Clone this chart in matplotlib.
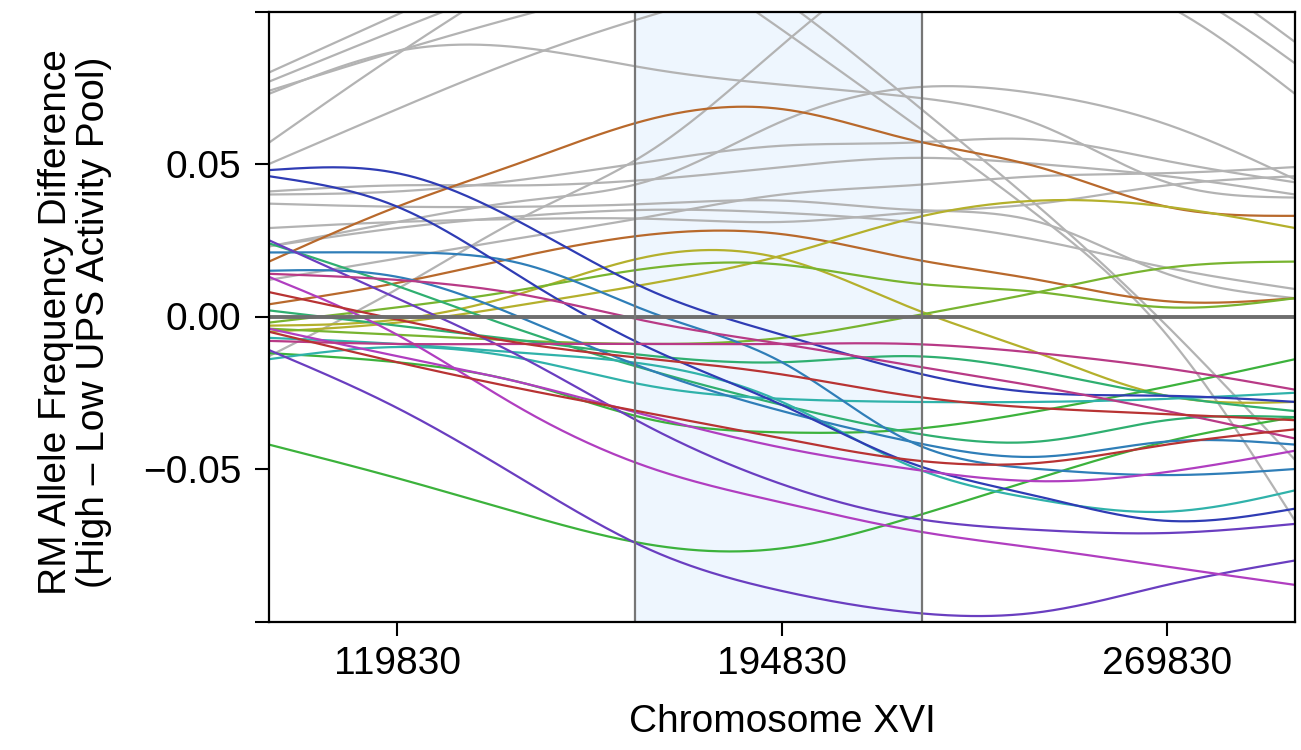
import numpy as np
import matplotlib
matplotlib.use('Agg')
import matplotlib.pyplot as plt

plt.rcParams['font.family'] = ['Liberation Sans', 'DejaVu Sans']

pos = [94830, 119830, 144830, 169830, 194830, 219830, 244830, 269830, 294830]

# coloured curves (two per colour)
brown_a = [0.018, 0.036, 0.051, 0.065, 0.068, 0.058, 0.049, 0.036, 0.033]
brown_b = [0.004, 0.011, 0.020, 0.027, 0.027, 0.019, 0.012, 0.005, 0.006]
olive_a = [-0.003, -0.001, 0.008, 0.020, 0.019, 0.003, -0.012, -0.026, -0.028]
olive_b = [-0.005, -0.002, 0.004, 0.011, 0.020, 0.032, 0.038, 0.036, 0.029]
ygreen_a = [-0.002, 0.003, 0.009, 0.016, 0.017, 0.011, 0.008, 0.003, 0.006]
ygreen_b = [-0.004, -0.006, -0.008, -0.009, -0.007, 0.000, 0.008, 0.016, 0.018]
green_a = [-0.042, -0.053, -0.065, -0.075, -0.076, -0.066, -0.053, -0.041, -0.033]
green_b = [-0.012, -0.015, -0.022, -0.034, -0.038, -0.037, -0.031, -0.023, -0.014]
sea_a = [0.024, 0.010, -0.005, -0.018, -0.029, -0.038, -0.041, -0.034, -0.033]
sea_b = [0.002, -0.003, -0.008, -0.013, -0.015, -0.013, -0.018, -0.026, -0.031]
teal_a = [-0.014, -0.010, -0.014, -0.023, -0.027, -0.028, -0.028, -0.027, -0.025]
teal_b = [-0.007, -0.009, -0.012, -0.016, -0.028, -0.049, -0.060, -0.064, -0.057]
blue_a = [0.021, 0.021, 0.017, 0.001, -0.015, -0.041, -0.050, -0.052, -0.050]
blue_b = [0.015, 0.013, -0.001, -0.018, -0.031, -0.041, -0.046, -0.041, -0.042]
navy_a = [0.046, 0.036, 0.012, -0.011, -0.029, -0.048, -0.059, -0.067, -0.063]
navy_b = [0.048, 0.047, 0.030, 0.008, -0.006, -0.018, -0.025, -0.026, -0.028]
violet_a = [0.025, 0.006, -0.014, -0.037, -0.055, -0.066, -0.070, -0.071, -0.068]
violet_b = [-0.011, -0.030, -0.054, -0.077, -0.090, -0.097, -0.097, -0.088, -0.080]
purple_a = [-0.004, -0.013, -0.022, -0.033, -0.043, -0.050, -0.054, -0.051, -0.044]
purple_b = [0.013, -0.006, -0.031, -0.050, -0.061, -0.070, -0.076, -0.082, -0.088]
pink_a = [0.014, 0.012, 0.007, -0.002, -0.009, -0.016, -0.023, -0.031, -0.040]
pink_b = [-0.008, -0.009, -0.009, -0.009, -0.009, -0.009, -0.012, -0.017, -0.024]
red_a = [0.008, -0.001, -0.009, -0.014, -0.019, -0.026, -0.030, -0.032, -0.034]
red_b = [-0.005, -0.015, -0.024, -0.032, -0.040, -0.047, -0.048, -0.042, -0.037]

colour_lines = [
    (brown_a, '#B8692C'), (brown_b, '#B8692C'),
    (olive_a, '#B4B02C'), (olive_b, '#B4B02C'),
    (ygreen_a, '#78B430'), (ygreen_b, '#78B430'),
    (green_a, '#3CB23C'), (green_b, '#3CB23C'),
    (sea_a, '#2FAF70'), (sea_b, '#2FAF70'),
    (teal_a, '#30B2AA'), (teal_b, '#30B2AA'),
    (blue_a, '#2F7EB8'), (blue_b, '#2F7EB8'),
    (navy_a, '#2F3CB4'), (navy_b, '#2F3CB4'),
    (violet_a, '#6A3EC0'), (violet_b, '#6A3EC0'),
    (purple_a, '#B03EC0'), (purple_b, '#B03EC0'),
    (pink_a, '#B83A86'), (pink_b, '#B83A86'),
    (red_a, '#B83333'), (red_b, '#B83333'),
]

nan = np.nan
# grey background curves (nan where the curve is not read)
grey_lines = [
    [0.080, 0.099, 0.118, nan, nan, nan, nan, nan, nan],
    [0.077, 0.094, 0.110, 0.123, 0.130, 0.130, 0.127, 0.117, 0.090],
    [0.074, 0.087, 0.099, 0.109, 0.115, 0.118, 0.117, 0.109, 0.083],
    [0.057, 0.086, 0.113, nan, nan, nan, nan, nan, nan],
    [0.050, 0.068, 0.085, 0.099, 0.110, 0.116, 0.115, 0.102, 0.073],
    [0.073, 0.087, 0.088, 0.081, 0.076, 0.072, 0.063, 0.044, 0.039],
    [0.041, 0.043, 0.043, 0.045, 0.049, 0.052, 0.050, 0.046, 0.040],
    [0.040, 0.041, 0.045, 0.051, 0.056, 0.057, 0.058, 0.051, 0.044],
    [0.037, 0.036, 0.036, 0.037, 0.038, 0.035, 0.031, 0.014, 0.006],
    [0.029, 0.031, 0.032, 0.032, 0.031, 0.034, 0.037, 0.043, 0.046],
    [0.023, 0.031, 0.038, 0.045, 0.064, 0.075, 0.073, 0.063, 0.045],
    [0.023, 0.029, 0.033, 0.035, 0.034, 0.031, 0.025, 0.016, 0.009],
    [0.012, 0.019, 0.026, 0.033, 0.040, 0.043, 0.046, 0.047, 0.049],
    [-0.013, 0.009, 0.033, 0.055, 0.089, 0.123, nan, nan, nan],
    [nan, nan, nan, 0.123, 0.094, 0.064, 0.033, -0.006, -0.067],
    [nan, nan, nan, 0.130, 0.104, 0.071, 0.036, -0.003, -0.047],
]

region = (166100, 222200)
x_ticks = [119830, 194830, 269830]
y_ticks = [-0.1, -0.05, 0.0, 0.05, 0.1]
y_tick_labels = ['', '\u22120.05', '0.00', '0.05', '']


def spline(xs, ys, xn):
    # natural cubic spline through the read points
    xs = np.asarray(xs, float)
    ys = np.asarray(ys, float)
    n = len(xs)
    if n < 3:
        return np.interp(xn, xs, ys)
    h = np.diff(xs)
    A = np.zeros((n, n))
    r = np.zeros(n)
    A[0, 0] = A[-1, -1] = 1
    for i in range(1, n - 1):
        A[i, i - 1] = h[i - 1]
        A[i, i] = 2 * (h[i - 1] + h[i])
        A[i, i + 1] = h[i]
        r[i] = 3 * ((ys[i + 1] - ys[i]) / h[i] - (ys[i] - ys[i - 1]) / h[i - 1])
    c = np.linalg.solve(A, r)
    b = (ys[1:] - ys[:-1]) / h - h * (2 * c[:-1] + c[1:]) / 3
    d = (c[1:] - c[:-1]) / (3 * h)
    k = np.clip(np.searchsorted(xs, xn) - 1, 0, n - 2)
    dx = xn - xs[k]
    return ys[k] + b[k] * dx + c[k] * dx ** 2 + d[k] * dx ** 3


def draw(ax, vals, color, lw):
    xs = np.array(pos, float)
    ys = np.array(vals, float)
    ok = np.isfinite(ys)
    xs, ys = xs[ok], ys[ok]
    xn = np.linspace(xs[0], xs[-1], 400)
    ax.plot(xn, spline(xs, ys, xn), color=color, lw=lw, solid_capstyle='butt', zorder=3)


fig = plt.figure(figsize=(13.01, 7.5), dpi=100)
ax = fig.add_axes([269 / 1301, 1 - 621.5 / 750, 1026 / 1301, 610 / 750])

ax.axvspan(region[0], region[1], color='#EEF6FE', lw=0, zorder=1)

for g in grey_lines:
    draw(ax, g, '#B3B3B3', 1.6)
for vals, col in colour_lines:
    draw(ax, vals, col, 1.6)

ax.axhline(0, color='#6E6E6E', lw=2.8, zorder=5)
for xv in region:
    ax.axvline(xv, color='#767676', lw=1.6, zorder=6)

ax.set_xlim(94830, 294830)
ax.set_ylim(-0.1, 0.1)
ax.set_xticks(x_ticks)
ax.set_xticklabels([str(v) for v in x_ticks])
ax.set_yticks(y_ticks)
ax.set_yticklabels(y_tick_labels)
ax.tick_params(axis='both', labelsize=28, length=10, width=1.5, color='black')
ax.tick_params(axis='x', pad=8)
ax.tick_params(axis='y', pad=10)
for s in ax.spines.values():
    s.set_linewidth(1.6)
    s.set_color('black')
    s.set_zorder(7)

fig.text(782 / 1301, 1 - 722 / 750, 'Chromosome XVI', fontsize=28,
         ha='center', va='center')
fig.text(75 / 1301, 1 - 322 / 750,
         'RM Allele Frequency Difference\n(High \u2013 Low UPS Activity Pool)',
         fontsize=28, ha='center', va='center', rotation=90,
         multialignment='center', linespacing=1.1)

fig.savefig('out.png', dpi=100)
